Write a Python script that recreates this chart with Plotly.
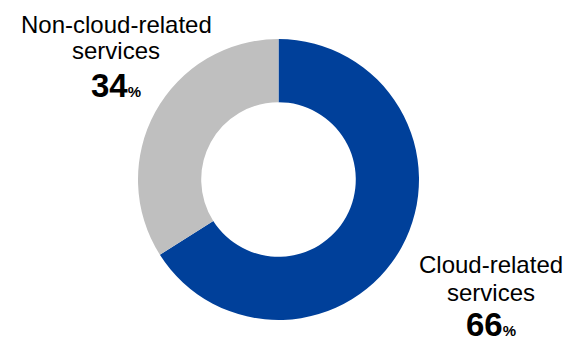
import plotly.graph_objects as go

# Share of services
categories = ["Cloud-related services", "Non-cloud-related services"]
shares = [66, 34]
colors = ["#00409A", "#BFBFBF"]

W, H = 583, 344

fig = go.Figure(
    go.Pie(
        labels=categories,
        values=shares,
        hole=0.55,
        sort=False,
        direction="clockwise",
        rotation=0,
        marker=dict(colors=colors, line=dict(width=0)),
        textinfo="none",
        hoverinfo="label+percent",
        domain=dict(x=[138 / W, 419 / W], y=[24 / H, 305 / H]),
        showlegend=False,
    )
)

FONT = "Liberation Sans, Arial, sans-serif"


def label_block(name_lines, value, cx, ys):
    """Stacked annotation lines: category name and bold percentage."""
    anns = []
    for line, y in zip(name_lines, ys[:-1]):
        anns.append(dict(
            text=line, x=cx / W, y=1 - y / H, xref="paper", yref="paper",
            showarrow=False, xanchor="center", yanchor="middle",
            font=dict(family=FONT, size=24, color="#000000"),
        ))
    anns.append(dict(
        text=f"<b>{value}</b><b><span style='font-size:15px'>%</span></b>",
        x=cx / W, y=1 - ys[-1] / H, xref="paper", yref="paper",
        showarrow=False, xanchor="center", yanchor="middle",
        font=dict(family=FONT, size=33, color="#000000"),
    ))
    return anns


annotations = []
annotations += label_block(["Non-cloud-related", "services"], shares[1], 116, [24, 50, 85])
annotations += label_block(["Cloud-related", "services"], shares[0], 491, [264, 292, 324])

fig.update_layout(
    width=W,
    height=H,
    margin=dict(l=0, r=0, t=0, b=0),
    paper_bgcolor="#FFFFFF",
    plot_bgcolor="#FFFFFF",
    annotations=annotations,
)

fig.write_html("out.html")
